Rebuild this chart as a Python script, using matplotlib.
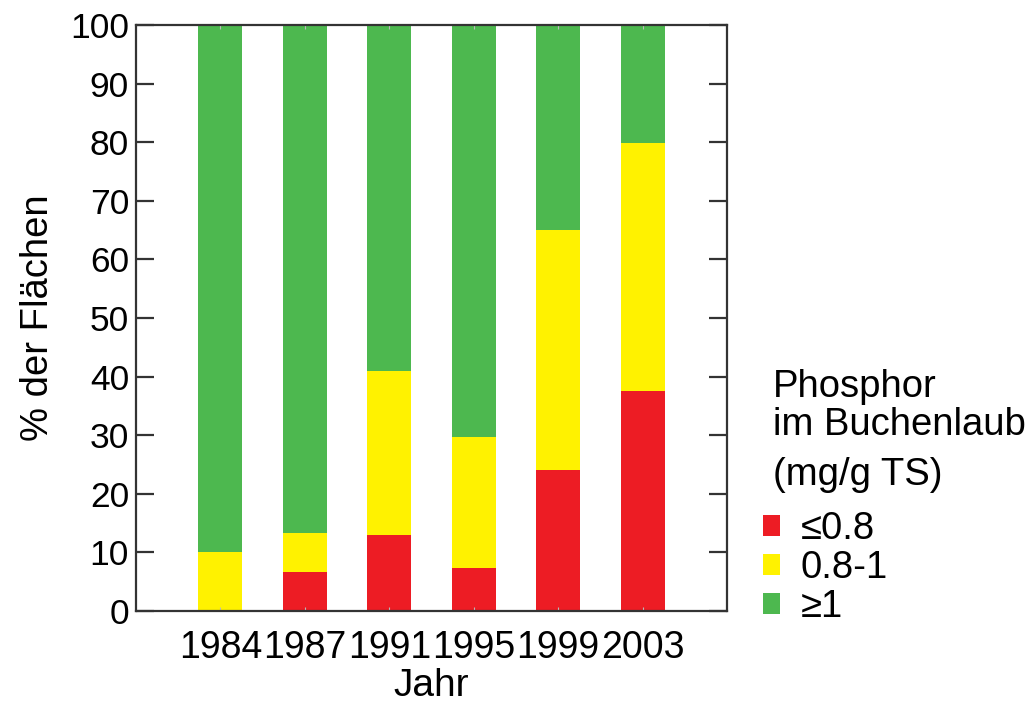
import matplotlib.pyplot as plt
import numpy as np

plt.rcParams['font.family'] = ['Liberation Sans', 'DejaVu Sans']

# data (% der Flaechen)
years = ['1984', '1987', '1991', '1995', '1999', '2003']
low = [0, 6.7, 13.0, 7.3, 24.0, 37.5]        # <=0.8
mid = [10.0, 6.6, 27.9, 22.4, 41.1, 42.3]    # 0.8-1
high = [90.0, 86.7, 59.1, 70.3, 34.9, 20.2]  # >=1
labels = ['≤0.8', '0.8-1', '≥1']
colors = ['#ED1C24', '#FFF200', '#4DB84F']

fig = plt.figure(figsize=(10.35, 7.02), dpi=100)
ax = fig.add_axes([0.1314, 0.1296, 0.571, 0.8348])

x = np.arange(1, len(years) + 1)
w = 0.52
b1 = ax.bar(x, low, w, color=colors[0], label=labels[0])
b2 = ax.bar(x, mid, w, bottom=low, color=colors[1], label=labels[1])
b3 = ax.bar(x, high, w, bottom=np.array(low) + np.array(mid),
            color=colors[2], label=labels[2])

ax.set_xlim(0, 7)
ax.set_ylim(0, 100)
ax.set_yticks(range(0, 101, 10))
ax.set_xticks(x)
ax.set_xticklabels(years, fontsize=27)
ax.tick_params(axis='y', direction='in', length=13, width=1.6,
               right=True, labelsize=25.5, color='#333333', pad=5)
ax.tick_params(axis='x', direction='in', length=3, width=0.8,
               top=True, color='#bbbbbb', pad=14)
for s in ax.spines.values():
    s.set_color('#333333')
    s.set_linewidth(1.6)

ax.set_ylabel('% der Flächen', fontsize=27.5, labelpad=10)
ax.set_xlabel('Jahr', fontsize=28, labelpad=1)

fig.text(0.747, (702 - 397) / 702, 'Phosphor', fontsize=27.5,
         va='baseline', ha='left')
fig.text(0.747, (702 - 435) / 702, 'im Buchenlaub', fontsize=27.5,
         va='baseline', ha='left')
fig.text(0.747, (702 - 485) / 702, '(mg/g TS)', fontsize=27.5,
         va='baseline', ha='left')

ax.legend(handles=[b1, b2, b3], loc='upper left',
          bbox_to_anchor=(0.737, 0.272), bbox_transform=fig.transFigure,
          frameon=False, fontsize=27.5, handlelength=0.45, handleheight=0.45,
          handletextpad=0.55, labelspacing=0.08, borderaxespad=0, borderpad=0)

fig.savefig('out.png', dpi=100)
